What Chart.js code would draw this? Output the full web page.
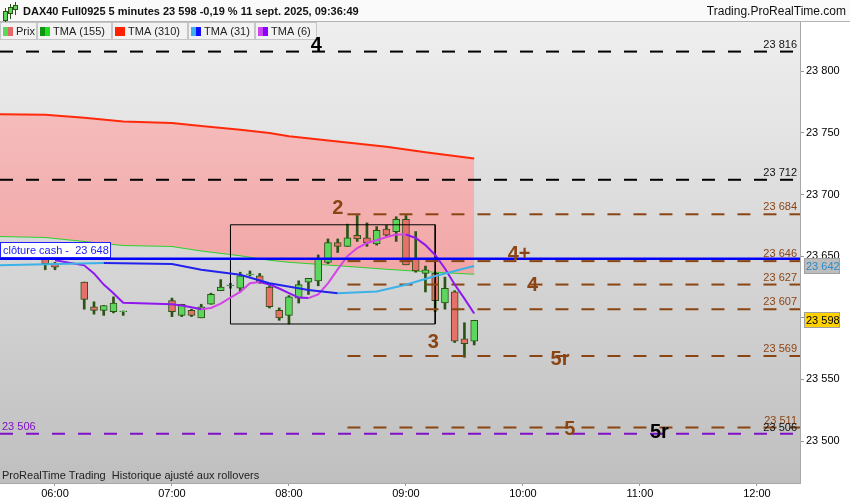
<!DOCTYPE html>
<html>
<head>
<meta charset="utf-8">
<script src="https://cdn.jsdelivr.net/npm/chart.js@4.4.1/dist/chart.umd.min.js"></script>
<style>
  html, body { margin: 0; padding: 0; background: #fff; }
  #wrap { width: 850px; height: 500px; }
</style>
</head>
<body>
<div id="wrap"><canvas id="chart" width="850" height="500"></canvas></div>
<script>
/* ---------- data ---------- */
const candleTimes = ['05:55','06:00','06:15','06:20','06:25','06:30','06:35','07:00','07:05','07:10','07:15','07:20','07:25','07:30','07:35','07:40','07:45','07:50','07:55','08:00','08:05','08:10','08:15','08:20','08:25','08:30','08:35','08:40','08:45','08:50','08:55','09:00','09:05','09:10','09:15','09:20','09:25','09:30','09:35'];
const opens  = [23649,23644,23629,23609,23606,23605,23605,23614,23602,23606,23600,23611,23622,23626,23624,23635,23634,23625,23606,23602,23616,23629,23630,23645,23661,23658,23667,23665,23660,23672,23670,23680,23648,23636,23636,23612,23621,23583,23581];
const highs  = [23650,23645,23629,23613,23610,23617,23605.5,23616,23611,23607,23611,23620,23631,23628,23637,23638,23636,23626,23608,23618,23630,23632,23651,23664,23664,23676,23683,23677,23674,23675,23682,23683,23670,23642,23637,23633,23622,23596,23598];
const lows   = [23639,23639,23607,23603,23602,23604,23602,23601,23601,23601,23600,23611,23622,23624,23621,23634,23628,23608,23598,23595,23612,23619,23626,23644,23653,23658,23662,23658,23659,23666,23662,23643,23637,23621,23605,23607,23580,23568,23578];
const closes = [23644,23641,23615,23606,23610,23612,23605.5,23605,23611,23602,23609,23619,23625,23626.5,23634,23635.5,23629,23609,23600,23617,23627,23632,23648,23661,23658,23665,23664,23661,23671,23667,23680,23643,23638,23639,23614,23624,23581,23579,23598];

// slow moving averages (TMA 310 / TMA 155)
const slowTimes = ['05:30','05:55','06:15','06:35','07:00','07:15','07:35','07:50','08:00','08:25','08:50','09:10','09:35'];
const tma310 = [23765.2,23764.8,23762.3,23759.3,23758.0,23755.6,23752.5,23750.0,23747.4,23743.0,23738.7,23734.4,23729.3];
const tma155 = [23666.4,23665.6,23662.3,23659.0,23658.2,23654.6,23650.8,23647.1,23645.5,23642.6,23639.8,23637.7,23635.8];

// TMA 31
const tma31Times = ['05:30','05:55','06:25','07:00','07:15','07:35','07:50','08:10','08:25','08:45','09:00','09:15','09:35'];
const tma31 = [23642.5,23643.4,23644.5,23643.7,23639.0,23635.0,23628.1,23622.5,23619.9,23621.4,23626.8,23634.0,23642];

// TMA 6
const tma6Times = ['06:00','06:15','06:20','06:25','06:30','06:35','07:00','07:05','07:10','07:15','07:20','07:25','07:30','07:35','07:40','07:45','07:50','07:55','08:00','08:05','08:10','08:15','08:20','08:25','08:30','08:35','08:40','08:45','08:50','08:55','09:00','09:05','09:10','09:15','09:20','09:25','09:30','09:35'];
const tma6 = [23646.7,23642.6,23636,23627,23620,23612.3,23611,23610,23608.6,23607,23608,23611.5,23616.4,23621,23628,23629,23627,23623.8,23620,23616.4,23616,23619,23628,23639.3,23650,23656.6,23660.7,23663,23665.6,23667.6,23667.6,23664.8,23659,23651,23640,23627,23615.6,23603.5];

// horizontal levels
const blackLevels = [23816, 23712];
const brownLevels = [23684, 23646, 23627, 23607, 23569, 23511];
const brownStart = '08:30';
const cashLevel = 23648;
const purpleLevel = 23506;

// hand-drawn box
const boxTimes = ['07:30', '09:15'];
const boxLevels = [23675.5, 23595];

// wave annotations
const waveTexts  = ['4', '2', '3', '4+', '4', '5r', '5', '5r'];
const waveTimes  = ['08:14', '08:25', '09:14', '09:58', '10:05', '10:19', '10:24', '11:10'];
const waveValues = [23821.3, 23688.5, 23580.3, 23651.6, 23626.2, 23566.4, 23509.8, 23506.6];
const waveBlack  = [true, false, false, false, false, false, false, true];

// axes
const xTickLabels = ['06:00','07:00','08:00','09:00','10:00','11:00','12:00'];
const yTicks = [23500, 23550, 23600, 23650, 23700, 23750, 23800];
const xRange = [331.8, 742.1];   // minutes since midnight
const yRange = [23466, 23840];

/* ---------- helpers ---------- */
const t = s => { const [h, m] = s.split(':').map(Number); return h * 60 + m; };
const hhmm = v => String(Math.floor(v / 60)).padStart(2, '0') + ':' + String(Math.round(v % 60)).padStart(2, '0');
const fmt = v => String(Math.round(v)).replace(/\B(?=(\d{3})+(?!\d))/g, ' ');
const pts = (times, vals) => times.map((s, i) => ({ x: t(s), y: vals[i] }));
const hline = (x0, x1, v) => [{ x: x0, y: v }, { x: x1, y: v }];

const FONT = '"Liberation Sans", Arial, sans-serif';
const BROWN = '#8b4513';
const PURPLE = '#8010c8';
const GREEN_UP = '#5cd65c';
const RED_DN = '#e8706a';
const OUTLINE = '#2b5316';

/* ---------- datasets ---------- */
const wickData = candleTimes.map((s, i) => ({ x: t(s), y: [lows[i], highs[i]] }));
const bodyData = candleTimes.map((s, i) => ({ x: t(s), y: [opens[i], closes[i]] }));
const bodyColors = closes.map((c, i) => c >= opens[i] ? GREEN_UP : RED_DN);

const slope = (up, down) => ({ borderColor: c => c.p1.parsed.y >= c.p0.parsed.y ? up : down });

const datasets = [
  { // 0: TMA 310 with pink band down to TMA 155
    type: 'line', data: pts(slowTimes, tma310), borderColor: '#ff2a0a', borderWidth: 2,
    pointRadius: 0, tension: 0, fill: '+1', order: 10,
    backgroundColor: ctx => {
      const ca = ctx.chart.chartArea;
      if (!ca) return 'rgba(240,170,170,1)';
      const g = ctx.chart.ctx.createLinearGradient(0, 110, 0, 275);
      g.addColorStop(0, '#f5bcbc');
      g.addColorStop(1, '#f2a6a6');
      return g;
    }
  },
  { // 1: TMA 155
    type: 'line', data: pts(slowTimes, tma155), borderColor: '#2fd02f', borderWidth: 2,
    pointRadius: 0, tension: 0, fill: false, order: 10
  },
  { // wicks
    type: 'bar', data: wickData, backgroundColor: OUTLINE, barThickness: 2,
    grouped: false, order: 8
  },
  { // bodies
    type: 'bar', data: bodyData, backgroundColor: bodyColors, borderColor: OUTLINE,
    borderWidth: 1, borderSkipped: false, barThickness: 7, grouped: false, order: 7
  },
  ...blackLevels.map(v => ({
    type: 'line', data: hline(xRange[0], xRange[1], v), borderColor: '#000', borderWidth: 2,
    borderDash: [13, 13], pointRadius: 0, fill: false, order: 6
  })),
  ...brownLevels.map(v => ({
    type: 'line', data: hline(t(brownStart), xRange[1], v), borderColor: BROWN, borderWidth: 2,
    borderDash: [13, 13], pointRadius: 0, fill: false, order: 6
  })),
  {
    type: 'line', data: hline(xRange[0], xRange[1], purpleLevel), borderColor: PURPLE, borderWidth: 2,
    borderDash: [13, 13], pointRadius: 0, fill: false, order: 6
  },
  { // box
    type: 'line', borderColor: '#000', borderWidth: 1, pointRadius: 0, fill: false, order: 6,
    data: [
      { x: t(boxTimes[0]), y: boxLevels[0] }, { x: t(boxTimes[1]), y: boxLevels[0] },
      { x: t(boxTimes[1]), y: boxLevels[1] }, { x: t(boxTimes[0]), y: boxLevels[1] },
      { x: t(boxTimes[0]), y: boxLevels[0] }
    ]
  },
  { // TMA 31
    type: 'line', data: pts(tma31Times, tma31), borderWidth: 2, pointRadius: 0, tension: 0,
    fill: false, order: 5, borderColor: '#2222ee', segment: slope('#3cb0e8', '#2222ee')
  },
  { // TMA 6
    type: 'line', data: pts(tma6Times, tma6), borderWidth: 2, pointRadius: 0, tension: 0,
    fill: false, order: 5, borderColor: '#8f17ef', segment: slope('#d444e6', '#8f17ef')
  },
  { // cash close
    type: 'line', data: hline(xRange[0], xRange[1], cashLevel), borderColor: '#0000ff', borderWidth: 2.5,
    pointRadius: 0, fill: false, order: 4
  }
];

/* ---------- decorations: background, header, tabs, labels ---------- */
const decor = {
  id: 'decor',
  beforeDraw(chart) {
    const { ctx, chartArea: ca } = chart;
    ctx.save();
    ctx.fillStyle = '#fff';
    ctx.fillRect(0, 0, chart.width, chart.height);
    const g = ctx.createLinearGradient(0, ca.top, 0, ca.bottom);
    g.addColorStop(0, '#efefef');
    g.addColorStop(1, '#bfbfbf');
    ctx.fillStyle = g;
    ctx.fillRect(ca.left, ca.top, ca.right - ca.left, ca.bottom - ca.top);
    ctx.restore();
  },
  afterDraw(chart) {
    const { ctx, chartArea: ca, scales: { x, y } } = chart;
    ctx.save();

    // header strip
    ctx.fillStyle = '#fafafa';
    ctx.fillRect(0, 0, chart.width, ca.top - 1);
    ctx.strokeStyle = '#b4b4b4';
    ctx.lineWidth = 1;
    ctx.beginPath(); ctx.moveTo(0, ca.top - 0.5); ctx.lineTo(chart.width, ca.top - 0.5); ctx.stroke();
    // little candle icon
    [[5, 9, 15, GREEN_UP], [10, 5, 12, GREEN_UP], [15, 3, 10, GREEN_UP]].forEach(([cx, top, h, col]) => {
      ctx.fillStyle = OUTLINE; ctx.fillRect(cx, top - 1, 1, h + 3);
      ctx.fillStyle = col; ctx.fillRect(cx - 2, top + 2, 5, h - 5);
      ctx.strokeStyle = OUTLINE; ctx.strokeRect(cx - 1.5, top + 2.5, 4, h - 6);
    });
    ctx.fillStyle = '#111';
    ctx.font = 'bold 11px ' + FONT;
    ctx.textBaseline = 'alphabetic';
    ctx.textAlign = 'left';
    ctx.fillText('DAX40 Full0925 5 minutes 23 598 -0,19 % 11 sept. 2025, 09:36:49', 23, 15);
    ctx.font = '12px ' + FONT;
    ctx.textAlign = 'right';
    ctx.fillText('Trading.ProRealTime.com', 846, 15);

    // indicator tabs
    const tabs = [
      [0, 37, ['#5cd65c', '#e06a66'], 'Prix'],
      [37, 112, ['#129412', '#22dd22'], 'TMA (155)'],
      [112, 188, ['#ff2000', '#ff2000'], 'TMA (310)'],
      [188, 255, ['#3ab0f0', '#1010ff'], 'TMA (31)'],
      [255, 317, ['#cc44ee', '#8800ff'], 'TMA (6)']
    ];
    ctx.font = '11px ' + FONT;
    ctx.textAlign = 'left';
    tabs.forEach(([x0, x1, cols, label]) => {
      ctx.fillStyle = '#f2f2f2';
      ctx.fillRect(x0, ca.top, x1 - x0, 18);
      ctx.strokeStyle = '#c6c6c6';
      ctx.strokeRect(x0 + 0.5, ca.top + 0.5, x1 - x0 - 1, 17);
      ctx.fillStyle = cols[0]; ctx.fillRect(x0 + 3, ca.top + 5, 5, 9);
      ctx.fillStyle = cols[1]; ctx.fillRect(x0 + 8, ca.top + 5, 5, 9);
      ctx.fillStyle = '#222';
      ctx.fillText(label, x0 + 16, ca.top + 13);
    });

    // cash label box
    ctx.fillStyle = '#fff';
    ctx.fillRect(0, 242, 111, 16);
    ctx.strokeStyle = '#2020ff';
    ctx.strokeRect(0.5, 242.5, 110, 15);
    ctx.fillStyle = '#2020ff';
    ctx.font = '11px ' + FONT;
    ctx.fillText('clôture cash -  ' + fmt(cashLevel), 3, 254);

    // purple level tag on the left
    ctx.fillStyle = PURPLE;
    ctx.fillText(fmt(purpleLevel), 2, y.getPixelForValue(purpleLevel) - 4);

    // right side level tags
    ctx.textAlign = 'right';
    const tag = (v, col) => { ctx.fillStyle = col; ctx.fillText(fmt(v), ca.right - 3, y.getPixelForValue(v) - 4); };
    blackLevels.forEach(v => tag(v, '#111'));
    brownLevels.forEach(v => tag(v, BROWN));
    ctx.fillStyle = '#111';
    ctx.fillText(fmt(purpleLevel), ca.right - 3, y.getPixelForValue(purpleLevel) - 3);

    // wave labels
    ctx.font = 'bold 20px ' + FONT;
    ctx.textAlign = 'center';
    ctx.textBaseline = 'middle';
    waveTexts.forEach((s, i) => {
      ctx.fillStyle = waveBlack[i] ? '#000' : BROWN;
      ctx.fillText(s, x.getPixelForValue(t(waveTimes[i])), y.getPixelForValue(waveValues[i]));
    });

    // footer
    ctx.font = '11px ' + FONT;
    ctx.textAlign = 'left';
    ctx.textBaseline = 'alphabetic';
    ctx.fillStyle = '#222';
    ctx.fillText('ProRealTime Trading  Historique ajusté aux rollovers', 2, ca.bottom - 4);

    // price tags on the axis
    const axTag = (v, bg, fg) => {
      const py = Math.round(y.getPixelForValue(v));
      ctx.fillStyle = bg;
      ctx.fillRect(ca.right + 4, py - 8, 36, 16);
      ctx.strokeStyle = '#a0a0a0';
      ctx.strokeRect(ca.right + 4.5, py - 7.5, 35, 15);
      ctx.fillStyle = fg;
      ctx.textBaseline = 'middle';
      ctx.fillText(fmt(v), ca.right + 6, py + 1);
    };
    axTag(tma31[tma31.length - 1], '#bdbdbd', '#2a8ccc');
    axTag(closes[closes.length - 1], '#ffd200', '#000');

    ctx.restore();
  }
};

/* ---------- chart ---------- */
new Chart(document.getElementById('chart'), {
  type: 'line',
  data: { datasets },
  options: {
    responsive: false,
    animation: false,
    events: [],
    layout: { padding: { top: 22, left: 0, right: 0, bottom: 0 } },
    plugins: { legend: { display: false }, tooltip: { enabled: false } },
    scales: {
      x: {
        type: 'linear', min: xRange[0], max: xRange[1], offset: false,
        grid: { display: true, drawOnChartArea: false, tickLength: 3, color: '#999', offset: false },
        border: { display: true, color: '#a8a8a8' },
        ticks: { color: '#000', font: { family: FONT, size: 11 }, padding: 1, maxRotation: 0,
                 callback: v => hhmm(v) },
        afterBuildTicks: s => { s.ticks = xTickLabels.map(l => ({ value: t(l) })); },
        afterFit: s => { s.height = 17; }
      },
      y: {
        type: 'linear', position: 'right', min: yRange[0], max: yRange[1],
        grid: { display: true, drawOnChartArea: false, tickLength: 4, color: '#999' },
        border: { display: true, color: '#a8a8a8' },
        ticks: { color: '#000', font: { family: FONT, size: 11 }, padding: 2, callback: v => fmt(v) },
        afterBuildTicks: s => { s.ticks = yTicks.map(v => ({ value: v })); },
        afterFit: s => { s.width = 50; }
      }
    }
  },
  plugins: [decor]
});
</script>
</body>
</html>
